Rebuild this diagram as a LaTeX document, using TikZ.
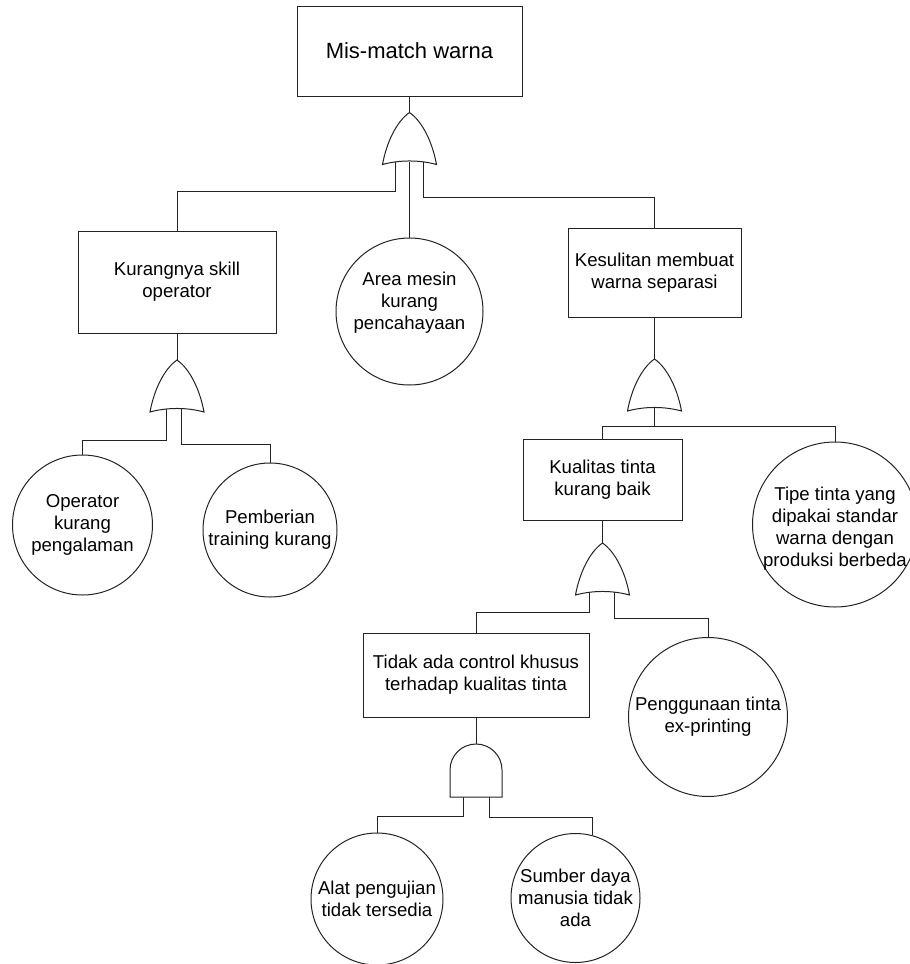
\documentclass[tikz,border=0pt]{standalone}
\usepackage{fontspec}
\setmainfont{Liberation Sans}
\definecolor{lc}{RGB}{35,35,35}
\pgfdeclarelayer{background}
\pgfsetlayers{background,main}
\begin{document}
\begin{tikzpicture}[x=1pt,y=1pt,
  evbox/.style={draw=lc, line width=1pt, rectangle, inner sep=0pt, align=center,
    font=\fontsize{18.6}{21.8}\selectfont, text=black},
  evcirc/.style={draw=lc, line width=1pt, circle, inner sep=0pt, align=center,
    font=\fontsize{18.6}{21.8}\selectfont, text=black},
  evtext/.style={inner sep=0pt, align=center, font=\fontsize{18.6}{21.8}\selectfont, text=black},
  conn/.style={draw=lc, line width=1pt},
  pics/orgate/.style={code={
    \draw[draw=lc, line width=1pt, fill=white] (0,0) .. controls (-13,-9) and (-23,-30) .. (-27,-52)
      .. controls (-10,-47.3) and (10,-47.3) .. (27,-52)
      .. controls (23,-30) and (13,-9) .. (0,0) -- cycle;
    \coordinate (-apex) at (0,0);
    \coordinate (-base) at (0,-49);
  }},
  pics/andgate/.style={code={
    \draw[draw=lc, line width=1pt, fill=white] (-26,-53) -- (-26,-26)
      arc[start angle=180, end angle=0, radius=26] -- (26,-53) -- cycle;
    \coordinate (-apex) at (0,0);
    \coordinate (-base) at (0,-53);
  }}
]
\clip (0,0) rectangle (910,-964);

% events
\node[evbox, minimum width=225pt, minimum height=90pt, font=\fontsize{22}{26}\selectfont] (top) at (409.5,-51) {Mis-match warna};
\node[evbox, minimum width=198pt, minimum height=102pt] (kurang) at (177,-282) {Kurangnya skill\\operator};
\node[evcirc, minimum size=147pt] (area) at (409.5,-311.5) {};
\node[evtext] (areat) at ([yshift=9pt]area.center) {Area mesin\\kurang\\pencahayaan};
\node[evbox, minimum width=173pt, minimum height=89pt] (kesulitan) at (654.5,-272.5) {Kesulitan membuat\\warna separasi};
\node[evcirc, minimum size=140pt] (operator) at (82.5,-525) {Operator\\kurang\\pengalaman};
\node[evcirc, minimum size=134pt] (pemberian) at (270,-530) {Pemberian\\training kurang};
\node[evbox, minimum width=159pt, minimum height=81pt] (kualitas) at (602.5,-479.5) {Kualitas tinta\\kurang baik};
\node[evcirc, minimum size=165pt] (tipe) at (835,-524.5) {};
\node[evtext] (tipet) at ([yshift=-4pt]tipe.center) {Tipe tinta yang\\dipakai standar\\warna dengan\\produksi berbeda};
\node[evbox, minimum width=226pt, minimum height=84pt] (tidak) at (476,-675) {Tidak ada control khusus\\terhadap kualitas tinta};
\node[evcirc, minimum size=159pt] (penggunaan) at (708,-717) {Penggunaan tinta\\ex-printing};
\node[evcirc, minimum size=132pt] (alat) at (377,-899) {Alat pengujian\\tidak tersedia};
\node[evcirc, minimum size=129pt] (sumber) at (575.5,-898) {Sumber daya\\manusia tidak\\ada};

% gates
\pic (g1) at (409.5,-112.5) {orgate};
\pic (g2) at (177,-360) {orgate};
\pic (g3) at (654.5,-359) {orgate};
\pic (g4) at (602.5,-543) {orgate};
\pic (g5) at (476,-744) {andgate};
\coordinate (j3) at (654.5,-426);

% connectors
\begin{pgfonlayer}{background}
\draw[conn] (top.south) -- (g1-apex);
\draw[conn] ([xshift=-14.5pt]g1-base) -- ++(0,-29.5) -| (kurang.north);
\draw[conn] (g1-base) -- (area.north);
\draw[conn] ([xshift=13.5pt]g1-base) -- ++(0,-35.5) -| (kesulitan.north);
\draw[conn] (kurang.south) -- (g2-apex);
\draw[conn] ([xshift=-10.5pt]g2-base) -- ++(0,-31) -| (operator.north);
\draw[conn] ([xshift=4pt]g2-base) -- ++(0,-35) -| (pemberian.north);
\draw[conn] (kesulitan.south) -- (g3-apex);
\draw[conn] (g3-base) -- (j3);
\draw[conn] (j3) -| (kualitas.north);
\draw[conn] (j3) -| (tipe.north);
\draw[conn] (kualitas.south) -- (g4-apex);
\draw[conn] ([xshift=-13.5pt]g4-base) -- ++(0,-20) -| (tidak.north);
\draw[conn] ([xshift=12pt]g4-base) -- ++(0,-26.5) -| (penggunaan.north);
\draw[conn] (tidak.south) -- (g5-apex);
\draw[conn] ([xshift=-13pt]g5-base) -- ++(0,-19) -| (alat.north);
\draw[conn] ([xshift=13pt]g5-base) -- ++(0,-20) -| (sumber.75);
\end{pgfonlayer}
\end{tikzpicture}
\end{document}
